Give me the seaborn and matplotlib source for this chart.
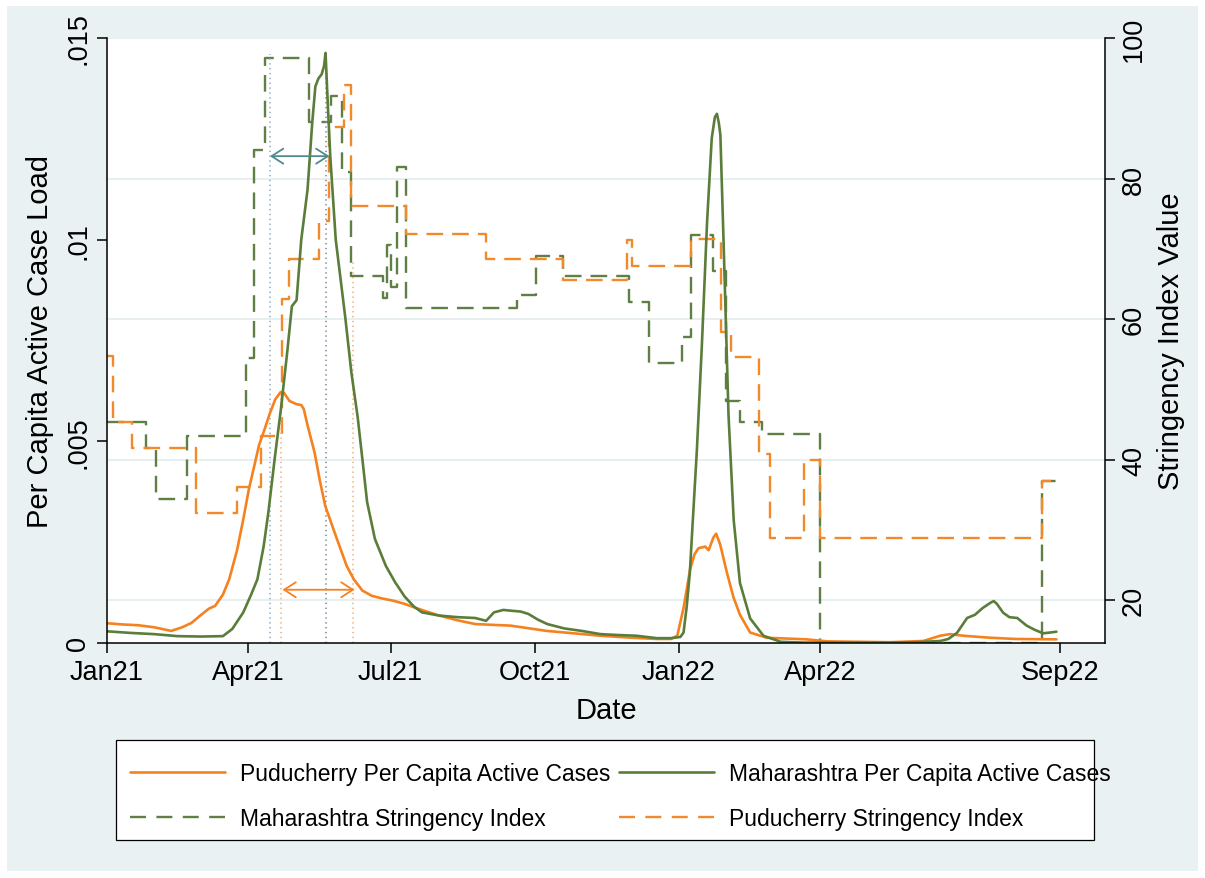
import numpy as np
import pandas as pd
import matplotlib
matplotlib.use("Agg")
import matplotlib.pyplot as plt
import seaborn as sns
from matplotlib.patches import Rectangle
from matplotlib.lines import Line2D

START = pd.Timestamp("2021-01-01")

# ---- Stringency index (step series): start day (days since 1 Jan 2021) and value
mh_str_day = [0, 25, 31, 51, 89, 94, 101, 129, 143, 150, 156, 176, 179, 181, 185, 191,
              262, 274, 291, 333, 346, 367, 373, 387, 395, 404, 418, 455, 597, 607]
mh_str_val = [45.3, 41.7, 34.4, 43.4, 54.5, 84.1, 97.2, 88.0, 91.7, 81.0, 66.1, 63.0, 70.5,
              64.5, 81.7, 61.6, 63.4, 69.0, 66.1, 62.5, 53.8, 57.4, 72.0, 66.8, 48.3, 45.3,
              43.6, 13.9, 36.9, 36.9]

pd_str_day = [0, 4, 16, 57, 83, 98, 112, 116, 135, 142, 151, 156, 191, 242, 291, 332, 335,
              373, 392, 398, 416, 423, 445, 455, 597, 607]
pd_str_val = [54.7, 45.4, 41.7, 32.4, 36.1, 43.4, 62.8, 68.5, 73.9, 87.4, 93.3, 76.1, 72.1,
              68.5, 65.6, 71.3, 67.6, 71.4, 58.2, 54.6, 40.8, 28.8, 39.9, 28.8, 36.9, 36.9]

# ---- Per capita active cases
mh_act_day = [0, 15, 30, 45, 60, 74, 80, 87, 92, 96, 100, 103, 107, 111, 115, 118, 121, 124,
              128, 131, 133, 135, 137, 138.5, 139.5, 141, 142.5, 146, 152, 156, 160, 163, 166,
              171, 178, 184, 190, 196, 201, 212, 224, 235, 242, 247, 253, 258, 264, 269, 275,
              281, 292, 303, 315, 325, 338, 351, 360, 366, 368, 370, 372, 374, 376.5, 379.7,
              383, 386, 388, 389.3, 390.5, 391.5, 393.5, 396.7, 400, 404, 410.5, 419, 430,
              445, 500, 517, 532, 537, 542.5, 549, 554, 559, 564, 566, 568, 572, 576, 581,
              587, 592, 597.5, 602, 606]
mh_act_val = [0.00029, 0.00025, 0.00022, 0.00017, 0.00016, 0.00017, 0.00035, 0.00076, 0.0012,
              0.00158, 0.0024, 0.00324, 0.00456, 0.0058, 0.0072, 0.00835, 0.0085, 0.0100,
              0.01124, 0.0129, 0.0138, 0.0140, 0.0141, 0.0143, 0.01463, 0.0133, 0.01207,
              0.0100, 0.0081, 0.0067, 0.0056, 0.00456, 0.0035, 0.00258, 0.00191, 0.0015,
              0.00115, 0.0009, 0.00076, 0.00068, 0.00064, 0.00062, 0.00055, 0.00076, 0.00082,
              0.0008, 0.00078, 0.00072, 0.00058, 0.00047, 0.00036, 0.0003, 0.00022, 0.0002,
              0.00018, 0.00012, 0.00012, 0.00015, 0.00026, 0.0009, 0.00174, 0.0031, 0.00478,
              0.00739, 0.01043, 0.01252, 0.01304, 0.01312, 0.0129, 0.0126, 0.0100, 0.00565,
              0.00305, 0.00149, 0.00061, 0.00018, 0.00003, 0.00001, 0.00001, 0.00002, 0.00005,
              0.0001, 0.00025, 0.00062, 0.0007, 0.00087, 0.001, 0.00104, 0.00097, 0.00075,
              0.00064, 0.00062, 0.00043, 0.00033, 0.00024, 0.00026, 0.00028]

pd_act_day = [0, 10, 20, 30, 41, 48, 54, 59.5, 65, 69, 74, 78, 83, 87, 90.5, 94, 97, 100.6,
              104, 107.4, 110.8, 113, 116.5, 121, 124, 125.6, 128, 132.5, 136, 139.3, 146,
              153, 157.5, 163, 169, 176, 182.6, 190, 196.3, 204, 212, 224, 235, 246, 257.8,
              270, 280.6, 295, 314.8, 335, 351, 360, 364, 368, 372.2, 375, 377.5, 381.8, 384,
              387, 388.8, 391.4, 395.7, 399.9, 404, 410.5, 421, 446.7, 460, 500, 521, 531.8,
              538, 546.6, 563.7, 580, 606]
pd_act_val = [0.00049, 0.00046, 0.00044, 0.00039, 0.0003, 0.00039, 0.0005, 0.00068, 0.00085,
              0.00092, 0.0012, 0.00158, 0.0023, 0.00307, 0.0038, 0.00439, 0.0049, 0.0053,
              0.0057, 0.00604, 0.00622, 0.0062, 0.0060, 0.00592, 0.0059, 0.0058, 0.0054,
              0.00472, 0.0040, 0.0034, 0.00266, 0.00191, 0.00158, 0.0013, 0.00117, 0.0011,
              0.00105, 0.00097, 0.00088, 0.00078, 0.00068, 0.00056, 0.00047, 0.00045, 0.00043,
              0.00036, 0.0003, 0.00025, 0.00018, 0.00013, 0.0001, 0.0001, 0.00018, 0.00087,
              0.00183, 0.0022, 0.00235, 0.00239, 0.0023, 0.00261, 0.00271, 0.00244, 0.00174,
              0.00113, 0.0007, 0.00026, 0.00013, 0.00009, 0.00004, 0.00002, 0.00005, 0.00018,
              0.00022, 0.00018, 0.00013, 0.0001, 0.00009]

# ---- reference markers (dotted lines) and arrows
marker_dates = ["2021-04-15", "2021-05-21", "2021-04-22", "2021-06-07"]
marker_tops = [0.0146, 0.0146, 0.0062, 0.0095]
arrow_from = ["2021-04-15", "2021-04-23"]
arrow_to = ["2021-05-23", "2021-06-08"]
arrow_y = [0.01207, 0.00132]

# ---- axes ticks / labels
x_tick_dates = ["2021-01-01", "2021-04-01", "2021-07-01", "2021-10-01",
                "2022-01-01", "2022-04-01", "2022-09-01"]
x_tick_labels = ["Jan21", "Apr21", "Jul21", "Oct21", "Jan22", "Apr22", "Sep22"]
left_ticks = [0, 0.005, 0.01, 0.015]
left_labels = ["0", ".005", ".01", ".015"]
right_ticks = [20, 40, 60, 80, 100]
right_labels = ["20", "40", "60", "80", "100"]

labels = ["Puducherry Per Capita Active Cases", "Maharashtra Per Capita Active Cases",
          "Maharashtra Stringency Index", "Puducherry Stringency Index"]

ORANGE = "#F5821F"
ORANGE_D = "#F08A2A"
GREEN = "#5A7D3A"
GREEN_D = "#5F7F45"
BG = "#EAF1F3"
GRID = "#E3ECEF"


def to_dates(days):
    return START + pd.to_timedelta(np.asarray(days, dtype=float), unit="D")


sns.set_theme(style="white")
plt.rcParams["font.family"] = ["Liberation Sans", "DejaVu Sans"]
plt.rcParams["lines.scale_dashes"] = False

W, H = 1205, 879
fig = plt.figure(figsize=(W / 100, H / 100), dpi=100)
fig.patch.set_facecolor("white")
fig.add_artist(Rectangle((7 / W, 7 / H), (W - 14) / W, (H - 14) / H,
                         transform=fig.transFigure, facecolor=BG, edgecolor="none", zorder=-5))

L, R, T, B = 107, 1105, 39, 644
ax = fig.add_axes([L / W, 1 - B / H, (R - L) / W, (B - T) / H])
ax2 = ax.twinx()
ax2.set_zorder(0)
ax.set_zorder(1)
ax.patch.set_visible(False)
ax2.patch.set_visible(True)
ax2.patch.set_facecolor("white")

DASH = (0, (12, 6.5))

# stringency (right axis)
sns.lineplot(x=to_dates(mh_str_day), y=mh_str_val, ax=ax2, color=GREEN_D, lw=1.7,
             drawstyle="steps-post", legend=False)
ax2.lines[-1].set_linestyle(DASH)
sns.lineplot(x=to_dates(pd_str_day), y=pd_str_val, ax=ax2, color=ORANGE_D, lw=1.7,
             drawstyle="steps-post", legend=False)
ax2.lines[-1].set_linestyle(DASH)

# active cases (left axis)
sns.lineplot(x=to_dates(pd_act_day), y=pd_act_val, ax=ax, color=ORANGE, lw=1.9, legend=False)
sns.lineplot(x=to_dates(mh_act_day), y=mh_act_val, ax=ax, color=GREEN, lw=1.9, legend=False)

# dotted reference lines
marker_colors = ["#8FB0C9", "#7E90A3", "#F2B27C", "#F2B27C"]
for d, top, c in zip(marker_dates, marker_tops, marker_colors):
    ax.vlines(pd.Timestamp(d), 0, top, colors=c, linestyles=(0, (1, 2.5)), lw=1.2, zorder=1)

arrow_colors = ["#4F8A8E", ORANGE]
for a, b, yv, c in zip(arrow_from, arrow_to, arrow_y, arrow_colors):
    ax.annotate("", xy=(pd.Timestamp(b), yv), xytext=(pd.Timestamp(a), yv),
                arrowprops=dict(arrowstyle="<->,head_length=0.7,head_width=0.45",
                                color=c, lw=1.3, shrinkA=0, shrinkB=0, mutation_scale=12))

# limits and ticks
ax.set_xlim(pd.Timestamp("2021-01-01"), pd.Timestamp("2022-09-30"))
ax.set_ylim(0, 0.015)
ax2.set_ylim(13.9, 100)

ax.set_xticks(pd.to_datetime(x_tick_dates))
ax.set_xticklabels(x_tick_labels)
ax.set_yticks(left_ticks)
ax.set_yticklabels(left_labels, rotation=90, va="center")
ax2.set_yticks(right_ticks)
ax2.set_yticklabels(right_labels, rotation=90, va="center")

tick_kw = dict(direction="out", length=7.5, width=1.1, color="black", labelsize=19.5,
               labelcolor="black", pad=4)
ax.tick_params(axis="x", bottom=True, **tick_kw)
ax.tick_params(axis="y", left=True, right=False, **tick_kw)
ax2.tick_params(axis="y", right=True, left=False, **tick_kw)

ax2.yaxis.grid(True, color=GRID, lw=1.2)
ax2.xaxis.grid(False)
ax.grid(False)
ax2.set_axisbelow(True)

for s in ["top", "right"]:
    ax.spines[s].set_visible(False)
for s in ["top", "left", "bottom"]:
    ax2.spines[s].set_visible(False)
for sp in [ax.spines["left"], ax.spines["bottom"], ax2.spines["right"]]:
    sp.set_color("black")
    sp.set_linewidth(1.1)

ax.set_xlabel("Date", fontsize=21, color="black", labelpad=8)
ax.set_ylabel("Per Capita Active Case Load", fontsize=21, color="black", va="center")
ax2.set_ylabel("Stringency Index Value", fontsize=21, color="black", va="center",
               rotation=90)
ax.yaxis.set_label_coords((40 - L) / (R - L), 0.5)
ax2.yaxis.set_label_coords((1171 - L) / (R - L), 0.5)

# legend box + two legend columns
fig.add_artist(Rectangle((116 / W, 1 - 841 / H), 978 / W, 100 / H, transform=fig.transFigure,
                         facecolor="white", edgecolor="black", lw=0.9, zorder=2))
h_pa = Line2D([], [], color=ORANGE, lw=1.9)
h_ma = Line2D([], [], color=GREEN, lw=1.9)
h_ms = Line2D([], [], color=GREEN_D, lw=1.7, linestyle=(0, (11.5, 7.5)))
h_ps = Line2D([], [], color=ORANGE_D, lw=1.7, linestyle=(0, (11.5, 7.5)))
leg_kw = dict(frameon=False, loc="upper left", borderpad=0, borderaxespad=0,
              fontsize=16.5, handlelength=4.15, handletextpad=0.65, labelspacing=0.93)
leg1 = fig.legend([h_pa, h_ms], [labels[0], labels[2]],
                  bbox_to_anchor=(130 / W, 1 - 763.5 / H), **leg_kw)
leg2 = fig.legend([h_ma, h_ps], [labels[1], labels[3]],
                  bbox_to_anchor=(619 / W, 1 - 763.5 / H), **leg_kw)
for lg in (leg1, leg2):
    lg.set_zorder(3)
    for t in lg.get_texts():
        t.set_color("black")

fig.savefig("out.png", dpi=100, facecolor=fig.get_facecolor())
